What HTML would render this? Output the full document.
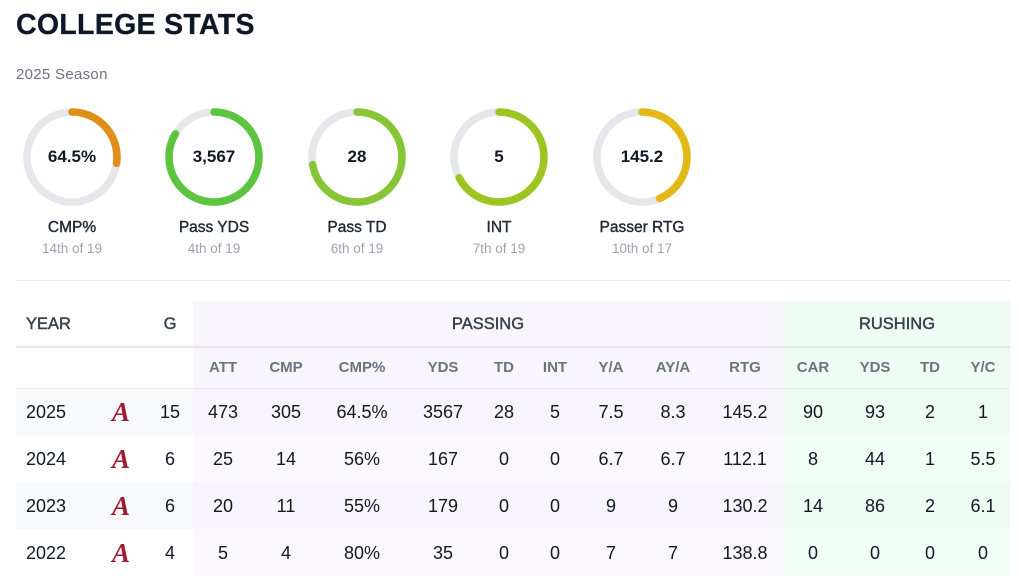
<!DOCTYPE html>
<html><head><meta charset="utf-8">
<style>
*{margin:0;padding:0;box-sizing:border-box}
html,body{width:1019px;height:578px;background:#fff;overflow:hidden;font-family:"Liberation Sans",sans-serif;color:#111827}
.abs{position:absolute}
.title{left:16px;top:8px;font-size:28.5px;font-weight:bold;color:#0f172a;letter-spacing:0.3px;line-height:34px;-webkit-text-stroke:0.3px #0f172a}
.season{left:16px;top:66px;font-size:15px;color:#6b7280;letter-spacing:0.3px;line-height:18px}
.ring{position:absolute;top:107px;width:100px;height:100px}
.rv{position:absolute;left:0;width:100%;top:40px;text-align:center;font-size:17px;font-weight:bold;color:#111827;line-height:20px}
.lab{position:absolute;width:140px;text-align:center;font-size:15.5px;color:#1f2937;line-height:18px;top:219px;-webkit-text-stroke:0.4px #1f2937}
.sub{position:absolute;width:140px;text-align:center;font-size:13.5px;color:#9ca3af;line-height:16px;top:241px}
.c{position:absolute;transform:translateX(-50%);white-space:nowrap;text-align:center}
.h1{font-size:16.5px;color:#374151;line-height:20px;-webkit-text-stroke:0.45px #374151}
.h2{font-size:15px;font-weight:bold;color:#6b7280;line-height:18px}
.d{font-size:18px;color:#111827;line-height:22px}
.logo{font-family:"Liberation Serif",serif;font-style:italic;font-weight:bold;color:#9e1b32;font-size:27px;line-height:28px}
</style></head><body>
<div class="abs title">COLLEGE STATS</div>
<div class="abs season">2025 Season</div>

<!-- rings -->
<svg class="ring" style="left:22px" viewBox="0 0 100 100"><circle cx="50" cy="50" r="45" fill="none" stroke="#e5e7eb" stroke-width="7.5"/><circle cx="50" cy="50" r="45" fill="none" stroke="#e08e1a" stroke-width="7.5" stroke-linecap="round" stroke-dasharray="77 400" transform="rotate(-90 50 50)"/></svg>
<div class="ring" style="left:22px"><div class="rv">64.5%</div></div>

<svg class="ring" style="left:164px" viewBox="0 0 100 100"><circle cx="50" cy="50" r="45" fill="none" stroke="#e5e7eb" stroke-width="7.5"/><circle cx="50" cy="50" r="45" fill="none" stroke="#5cc43e" stroke-width="7.5" stroke-linecap="round" stroke-dasharray="236 400" transform="rotate(-90 50 50)"/></svg>
<div class="ring" style="left:164px"><div class="rv">3,567</div></div>

<svg class="ring" style="left:307px" viewBox="0 0 100 100"><circle cx="50" cy="50" r="45" fill="none" stroke="#e5e7eb" stroke-width="7.5"/><circle cx="50" cy="50" r="45" fill="none" stroke="#86c536" stroke-width="7.5" stroke-linecap="round" stroke-dasharray="204 400" transform="rotate(-90 50 50)"/></svg>
<div class="ring" style="left:307px"><div class="rv">28</div></div>

<svg class="ring" style="left:449px" viewBox="0 0 100 100"><circle cx="50" cy="50" r="45" fill="none" stroke="#e5e7eb" stroke-width="7.5"/><circle cx="50" cy="50" r="45" fill="none" stroke="#9dc522" stroke-width="7.5" stroke-linecap="round" stroke-dasharray="190 400" transform="rotate(-90 50 50)"/></svg>
<div class="ring" style="left:449px"><div class="rv">5</div></div>

<svg class="ring" style="left:592px" viewBox="0 0 100 100"><circle cx="50" cy="50" r="45" fill="none" stroke="#e5e7eb" stroke-width="7.5"/><circle cx="50" cy="50" r="45" fill="none" stroke="#e2b814" stroke-width="7.5" stroke-linecap="round" stroke-dasharray="123 400" transform="rotate(-90 50 50)"/></svg>
<div class="ring" style="left:592px"><div class="rv">145.2</div></div>

<div class="lab" style="left:2px">CMP%</div><div class="sub" style="left:2px">14th of 19</div>
<div class="lab" style="left:144px">Pass YDS</div><div class="sub" style="left:144px">4th of 19</div>
<div class="lab" style="left:287px">Pass TD</div><div class="sub" style="left:287px">6th of 19</div>
<div class="lab" style="left:429px">INT</div><div class="sub" style="left:429px">7th of 19</div>
<div class="lab" style="left:572px">Passer RTG</div><div class="sub" style="left:572px">10th of 17</div>

<div class="abs" style="left:16px;top:280px;width:994px;height:1px;background:#e5e7eb"></div>

<!-- table backgrounds -->
<div class="abs" style="left:193px;top:301px;width:590px;height:87px;background:#f8f5fd"></div>
<div class="abs" style="left:783px;top:301px;width:227px;height:87px;background:#effcf3"></div>
<!-- rows -->
<div class="abs" style="left:16px;top:388px;width:177px;height:47px;background:#f8f9fa"></div>
<div class="abs" style="left:193px;top:388px;width:590px;height:47px;background:#f7f5fb"></div>
<div class="abs" style="left:783px;top:388px;width:227px;height:47px;background:#eefaf2"></div>
<div class="abs" style="left:193px;top:435px;width:590px;height:47px;background:#faf8fe"></div>
<div class="abs" style="left:783px;top:435px;width:227px;height:47px;background:#f1fdf5"></div>
<div class="abs" style="left:16px;top:482px;width:177px;height:47px;background:#f8f9fa"></div>
<div class="abs" style="left:193px;top:482px;width:590px;height:47px;background:#f7f5fb"></div>
<div class="abs" style="left:783px;top:482px;width:227px;height:47px;background:#eefaf2"></div>
<div class="abs" style="left:193px;top:529px;width:590px;height:47px;background:#faf8fe"></div>
<div class="abs" style="left:783px;top:529px;width:227px;height:47px;background:#f1fdf5"></div>

<div class="abs" style="left:16px;top:346px;width:994px;height:2px;background:#e5e7eb"></div>
<div class="abs" style="left:16px;top:388px;width:994px;height:1px;background:#e8e9ee"></div>

<!-- header row 1 -->
<div class="abs h1" style="left:26px;top:314px">YEAR</div>
<div class="c h1" style="left:170px;top:314px">G</div>
<div class="c h1" style="left:488px;top:314px">PASSING</div>
<div class="c h1" style="left:897px;top:314px">RUSHING</div>

<!-- header row 2 -->
<div class="c h2" style="left:223px;top:359px">ATT</div>
<div class="c h2" style="left:286px;top:359px">CMP</div>
<div class="c h2" style="left:362px;top:359px">CMP%</div>
<div class="c h2" style="left:443px;top:359px">YDS</div>
<div class="c h2" style="left:504px;top:359px">TD</div>
<div class="c h2" style="left:555px;top:359px">INT</div>
<div class="c h2" style="left:611px;top:359px">Y/A</div>
<div class="c h2" style="left:673px;top:359px">AY/A</div>
<div class="c h2" style="left:745px;top:359px">RTG</div>
<div class="c h2" style="left:813px;top:359px">CAR</div>
<div class="c h2" style="left:875px;top:359px">YDS</div>
<div class="c h2" style="left:930px;top:359px">TD</div>
<div class="c h2" style="left:983px;top:359px">Y/C</div>

<!-- data rows -->
<div class="abs d" style="left:26px;top:401px">2025</div>
<div class="c logo" style="left:121px;top:398px">A</div>
<div class="c d" style="left:170px;top:401px">15</div>
<div class="c d" style="left:223px;top:401px">473</div>
<div class="c d" style="left:286px;top:401px">305</div>
<div class="c d" style="left:362px;top:401px">64.5%</div>
<div class="c d" style="left:443px;top:401px">3567</div>
<div class="c d" style="left:504px;top:401px">28</div>
<div class="c d" style="left:555px;top:401px">5</div>
<div class="c d" style="left:611px;top:401px">7.5</div>
<div class="c d" style="left:673px;top:401px">8.3</div>
<div class="c d" style="left:745px;top:401px">145.2</div>
<div class="c d" style="left:813px;top:401px">90</div>
<div class="c d" style="left:875px;top:401px">93</div>
<div class="c d" style="left:930px;top:401px">2</div>
<div class="c d" style="left:983px;top:401px">1</div>

<div class="abs d" style="left:26px;top:448px">2024</div>
<div class="c logo" style="left:121px;top:445px">A</div>
<div class="c d" style="left:170px;top:448px">6</div>
<div class="c d" style="left:223px;top:448px">25</div>
<div class="c d" style="left:286px;top:448px">14</div>
<div class="c d" style="left:362px;top:448px">56%</div>
<div class="c d" style="left:443px;top:448px">167</div>
<div class="c d" style="left:504px;top:448px">0</div>
<div class="c d" style="left:555px;top:448px">0</div>
<div class="c d" style="left:611px;top:448px">6.7</div>
<div class="c d" style="left:673px;top:448px">6.7</div>
<div class="c d" style="left:745px;top:448px">112.1</div>
<div class="c d" style="left:813px;top:448px">8</div>
<div class="c d" style="left:875px;top:448px">44</div>
<div class="c d" style="left:930px;top:448px">1</div>
<div class="c d" style="left:983px;top:448px">5.5</div>

<div class="abs d" style="left:26px;top:495px">2023</div>
<div class="c logo" style="left:121px;top:492px">A</div>
<div class="c d" style="left:170px;top:495px">6</div>
<div class="c d" style="left:223px;top:495px">20</div>
<div class="c d" style="left:286px;top:495px">11</div>
<div class="c d" style="left:362px;top:495px">55%</div>
<div class="c d" style="left:443px;top:495px">179</div>
<div class="c d" style="left:504px;top:495px">0</div>
<div class="c d" style="left:555px;top:495px">0</div>
<div class="c d" style="left:611px;top:495px">9</div>
<div class="c d" style="left:673px;top:495px">9</div>
<div class="c d" style="left:745px;top:495px">130.2</div>
<div class="c d" style="left:813px;top:495px">14</div>
<div class="c d" style="left:875px;top:495px">86</div>
<div class="c d" style="left:930px;top:495px">2</div>
<div class="c d" style="left:983px;top:495px">6.1</div>

<div class="abs d" style="left:26px;top:542px">2022</div>
<div class="c logo" style="left:121px;top:539px">A</div>
<div class="c d" style="left:170px;top:542px">4</div>
<div class="c d" style="left:223px;top:542px">5</div>
<div class="c d" style="left:286px;top:542px">4</div>
<div class="c d" style="left:362px;top:542px">80%</div>
<div class="c d" style="left:443px;top:542px">35</div>
<div class="c d" style="left:504px;top:542px">0</div>
<div class="c d" style="left:555px;top:542px">0</div>
<div class="c d" style="left:611px;top:542px">7</div>
<div class="c d" style="left:673px;top:542px">7</div>
<div class="c d" style="left:745px;top:542px">138.8</div>
<div class="c d" style="left:813px;top:542px">0</div>
<div class="c d" style="left:875px;top:542px">0</div>
<div class="c d" style="left:930px;top:542px">0</div>
<div class="c d" style="left:983px;top:542px">0</div>
</body></html>
